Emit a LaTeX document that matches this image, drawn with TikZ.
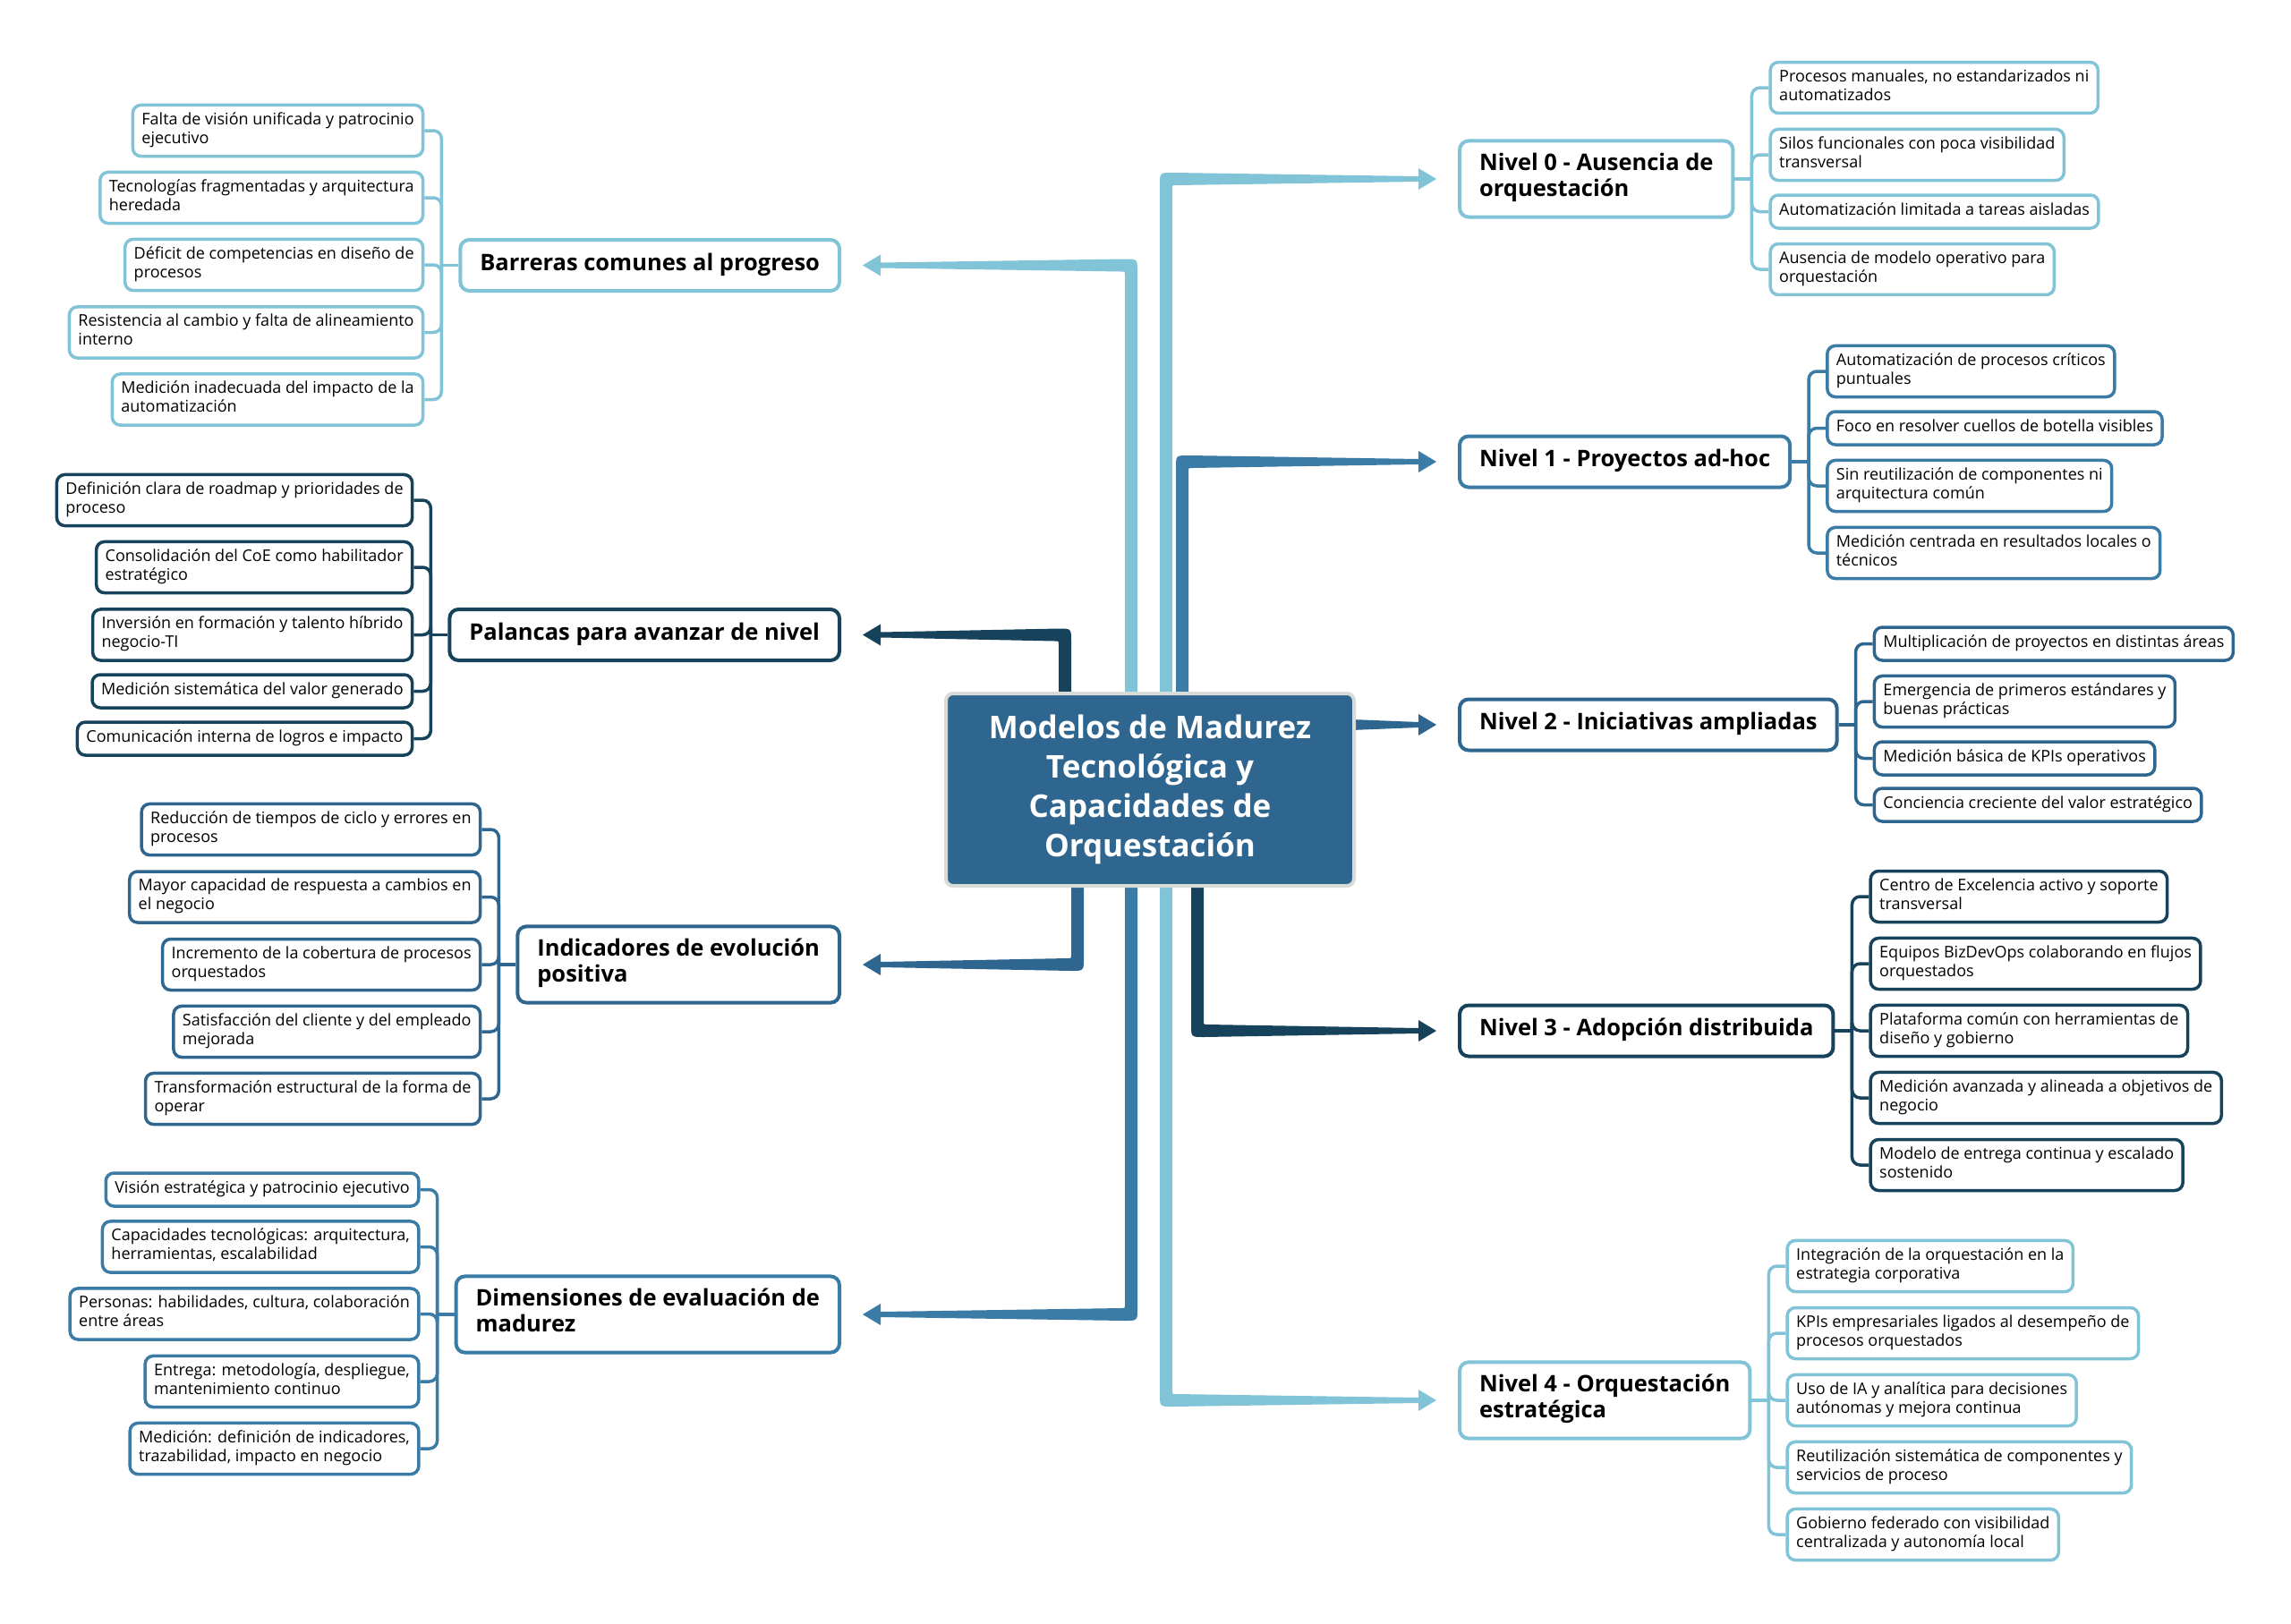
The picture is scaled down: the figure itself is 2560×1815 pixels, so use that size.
\documentclass[tikz,border=0pt]{standalone}
\usepackage{fontspec}
\setmainfont{Open Sans}
\usetikzlibrary{calc}
\pgfdeclarelayer{bg}
\pgfsetlayers{bg,main}
\definecolor{cL}{HTML}{81C3D7}
\definecolor{cM}{HTML}{3A7CA5}
\definecolor{cD}{HTML}{2F6690}
\definecolor{cN}{HTML}{16425B}
\definecolor{cG}{HTML}{D9DCD6}
\tikzset{
 itembox/.style={draw=#1, line width=3.5pt, rounded corners=9pt, fill=white, align=left,
   inner xsep=10pt, inner ysep=8pt, font=\fontsize{18}{21}\selectfont, text=black,
   execute at begin node=\strut, execute at end node=\strut},
 topicbox/.style={draw=#1, line width=4pt, rounded corners=10pt, fill=white, align=left,
   inner xsep=22pt, inner ysep=14pt, font=\bfseries\fontsize{25.5}{29}\selectfont, text=black,
   execute at begin node=\strut, execute at end node=\strut},
 brk/.style={draw=#1, line width=3.5pt, rounded corners=9pt},
}
% tapered elbow connector: color, trunk x, centre anchor, target node, target anchor, sx, sy
\newcommand\branch[7]{%
\fill[#1] let \p1=(ctr.#3), \p2=(#4.#5), \n1={#6}, \n2={#7} in
 ({#2pt-(\n1)*7pt}, \y1)
 -- ({#2pt-(\n1)*7pt}, {\y2+(\n2)*(7pt-14pt)})
 .. controls ({#2pt-(\n1)*7pt}, {\y2+(\n2)*7pt}) .. ({#2pt+(\n1)*7pt}, {\y2+(\n2)*7pt})
 -- ({\x2-(\n1)*44pt}, {\y2+(\n2)*3pt})
 -- ({\x2-(\n1)*44pt}, {\y2+(\n2)*12pt})
 -- ({\x2-(\n1)*24pt}, \y2)
 -- ({\x2-(\n1)*44pt}, {\y2-(\n2)*12pt})
 -- ({\x2-(\n1)*44pt}, {\y2-(\n2)*3pt})
 -- ({#2pt+(\n1)*11pt}, {\y2-(\n2)*7pt})
 .. controls ({#2pt+(\n1)*7pt}, {\y2-(\n2)*7pt}) .. ({#2pt+(\n1)*7pt}, {\y2-(\n2)*11pt})
 -- ({#2pt+(\n1)*7pt}, \y1) -- cycle;}
\begin{document}
\begin{tikzpicture}[x=1pt,y=-1pt]
\useasboundingbox (0,0) rectangle (2560,1815);
\begin{pgfonlayer}{bg}
\fill[white] (0,0) rectangle (2560,1815);
\end{pgfonlayer}

% centre
\node[draw=cG, line width=4pt, fill=cD, rounded corners=8pt, minimum width=456pt, minimum height=215pt,
  text=white, align=center, font=\bfseries\fontsize{35}{44}\selectfont] (ctr) at (1285,882.5)
  {Modelos de Madurez\\Tecnológica y\\Capacidades de\\Orquestación};

% right topics
\node[topicbox=cL, anchor=west] (n0) at (1629,200) {Nivel 0 - Ausencia de\\orquestación};
\node[topicbox=cM, anchor=west] (n1) at (1629,516) {Nivel 1 - Proyectos ad-hoc};
\node[topicbox=cD, anchor=west] (n2) at (1629,810) {Nivel 2 - Iniciativas ampliadas};
\node[topicbox=cN, anchor=west] (n3) at (1629,1152) {Nivel 3 - Adopción distribuida};
\node[topicbox=cL, anchor=west] (n4) at (1629,1565) {Nivel 4 - Orquestación\\estratégica};
% left topics
\node[topicbox=cL, anchor=east] (tb) at (940,296.5) {Barreras comunes al progreso};
\node[topicbox=cN, anchor=east] (tp) at (940,709.5) {Palancas para avanzar de nivel};
\node[topicbox=cD, anchor=east] (ti) at (940,1078) {Indicadores de evolución\\positiva};
\node[topicbox=cM, anchor=east] (td) at (940,1469) {Dimensiones de evaluación de\\madurez};

% Nivel 0 items
\node[itembox=cL, anchor=west, xshift=38pt] (n0a) at (n0.east |- 0,98) {Procesos manuales, no estandarizados ni\\automatizados};
\node[itembox=cL, anchor=west, xshift=38pt] (n0b) at (n0.east |- 0,173) {Silos funcionales con poca visibilidad\\transversal};
\node[itembox=cL, anchor=west, xshift=38pt] (n0c) at (n0.east |- 0,236.5) {Automatización limitada a tareas aisladas};
\node[itembox=cL, anchor=west, xshift=38pt] (n0d) at (n0.east |- 0,301) {Ausencia de modelo operativo para\\orquestación};
% Nivel 1 items
\node[itembox=cM, anchor=west, xshift=38pt] (n1a) at (n1.east |- 0,415) {Automatización de procesos críticos\\puntuales};
\node[itembox=cM, anchor=west, xshift=38pt] (n1b) at (n1.east |- 0,478.5) {Foco en resolver cuellos de botella visibles};
\node[itembox=cM, anchor=west, xshift=38pt] (n1c) at (n1.east |- 0,543) {Sin reutilización de componentes ni\\arquitectura común};
\node[itembox=cM, anchor=west, xshift=38pt] (n1d) at (n1.east |- 0,618) {Medición centrada en resultados locales o\\técnicos};
% Nivel 2 items
\node[itembox=cD, anchor=west, xshift=38pt] (n2a) at (n2.east |- 0,719.5) {Multiplicación de proyectos en distintas áreas};
\node[itembox=cD, anchor=west, xshift=38pt] (n2b) at (n2.east |- 0,784) {Emergencia de primeros estándares y\\buenas prácticas};
\node[itembox=cD, anchor=west, xshift=38pt] (n2c) at (n2.east |- 0,847.5) {Medición básica de KPIs operativos};
\node[itembox=cD, anchor=west, xshift=38pt] (n2d) at (n2.east |- 0,899.5) {Conciencia creciente del valor estratégico};
% Nivel 3 items
\node[itembox=cN, anchor=west, xshift=38pt] (n3a) at (n3.east |- 0,1002) {Centro de Excelencia activo y soporte\\transversal};
\node[itembox=cN, anchor=west, xshift=38pt] (n3b) at (n3.east |- 0,1077) {Equipos BizDevOps colaborando en flujos\\orquestados};
\node[itembox=cN, anchor=west, xshift=38pt] (n3c) at (n3.east |- 0,1152) {Plataforma común con herramientas de\\diseño y gobierno};
\node[itembox=cN, anchor=west, xshift=38pt] (n3d) at (n3.east |- 0,1227) {Medición avanzada y alineada a objetivos de\\negocio};
\node[itembox=cN, anchor=west, xshift=38pt] (n3e) at (n3.east |- 0,1302) {Modelo de entrega continua y escalado\\sostenido};
% Nivel 4 items
\node[itembox=cL, anchor=west, xshift=38pt] (n4a) at (n4.east |- 0,1415) {Integración de la orquestación en la\\estrategia corporativa};
\node[itembox=cL, anchor=west, xshift=38pt] (n4b) at (n4.east |- 0,1490) {KPIs empresariales ligados al desempeño de\\procesos orquestados};
\node[itembox=cL, anchor=west, xshift=38pt] (n4c) at (n4.east |- 0,1565) {Uso de IA y analítica para decisiones\\autónomas y mejora continua};
\node[itembox=cL, anchor=west, xshift=38pt] (n4d) at (n4.east |- 0,1640) {Reutilización sistemática de componentes y\\servicios de proceso};
\node[itembox=cL, anchor=west, xshift=38pt] (n4e) at (n4.east |- 0,1715) {Gobierno federado con visibilidad\\centralizada y autonomía local};

% Barreras items
\node[itembox=cL, anchor=east, xshift=-38pt] (b1) at (tb.west |- 0,146) {Falta de visión unificada y patrocinio\\ejecutivo};
\node[itembox=cL, anchor=east, xshift=-38pt] (b2) at (tb.west |- 0,221) {Tecnologías fragmentadas y arquitectura\\heredada};
\node[itembox=cL, anchor=east, xshift=-38pt] (b3) at (tb.west |- 0,296) {Déficit de competencias en diseño de\\procesos};
\node[itembox=cL, anchor=east, xshift=-38pt] (b4) at (tb.west |- 0,371.5) {Resistencia al cambio y falta de alineamiento\\interno};
\node[itembox=cL, anchor=east, xshift=-38pt] (b5) at (tb.west |- 0,446.5) {Medición inadecuada del impacto de la\\automatización};
% Palancas items
\node[itembox=cN, anchor=east, xshift=-38pt] (p1) at (tp.west |- 0,559) {Definición clara de roadmap y prioridades de\\proceso};
\node[itembox=cN, anchor=east, xshift=-38pt] (p2) at (tp.west |- 0,634) {Consolidación del CoE como habilitador\\estratégico};
\node[itembox=cN, anchor=east, xshift=-38pt] (p3) at (tp.west |- 0,709.5) {Inversión en formación y talento híbrido\\negocio-TI};
\node[itembox=cN, anchor=east, xshift=-38pt] (p4) at (tp.west |- 0,772.5) {Medición sistemática del valor generado};
\node[itembox=cN, anchor=east, xshift=-38pt] (p5) at (tp.west |- 0,825.5) {Comunicación interna de logros e impacto};
% Indicadores items
\node[itembox=cD, anchor=east, xshift=-38pt] (i1) at (ti.west |- 0,927) {Reducción de tiempos de ciclo y errores en\\procesos};
\node[itembox=cD, anchor=east, xshift=-38pt] (i2) at (ti.west |- 0,1002.5) {Mayor capacidad de respuesta a cambios en\\el negocio};
\node[itembox=cD, anchor=east, xshift=-38pt] (i3) at (ti.west |- 0,1078) {Incremento de la cobertura de procesos\\orquestados};
\node[itembox=cD, anchor=east, xshift=-38pt] (i4) at (ti.west |- 0,1153) {Satisfacción del cliente y del empleado\\mejorada};
\node[itembox=cD, anchor=east, xshift=-38pt] (i5) at (ti.west |- 0,1228) {Transformación estructural de la forma de\\operar};
% Dimensiones items
\node[itembox=cM, anchor=east, xshift=-38pt] (d1) at (td.west |- 0,1329.5) {Visión estratégica y patrocinio ejecutivo};
\node[itembox=cM, anchor=east, xshift=-38pt] (d2) at (td.west |- 0,1393.5) {Capacidades tecnológicas: arquitectura,\\herramientas, escalabilidad};
\node[itembox=cM, anchor=east, xshift=-38pt] (d3) at (td.west |- 0,1468.5) {Personas: habilidades, cultura, colaboración\\entre áreas};
\node[itembox=cM, anchor=east, xshift=-38pt] (d4) at (td.west |- 0,1544) {Entrega: metodología, despliegue,\\mantenimiento continuo};
\node[itembox=cM, anchor=east, xshift=-38pt] (d5) at (td.west |- 0,1619) {Medición: definición de indicadores,\\trazabilidad, impacto en negocio};

\begin{pgfonlayer}{bg}
% main branches
\branch{cL}{1264}{north}{tb}{east}{-1}{1}
\branch{cN}{1190}{north}{tp}{east}{-1}{1}
\branch{cL}{1303}{north}{n0}{west}{1}{1}
\branch{cM}{1321}{north}{n1}{west}{1}{1}
\branch{cN}{1338}{south}{n3}{west}{1}{-1}
\branch{cL}{1303}{south}{n4}{west}{1}{-1}
\branch{cD}{1204}{south}{ti}{east}{-1}{-1}
\branch{cM}{1264}{south}{td}{east}{-1}{-1}
\fill[cD] let \p1=(ctr.east), \p2=(n2.west) in
 (\x1-5pt, \y2+6pt) -- (\x2-44pt, \y2+3pt) -- (\x2-44pt, \y2+12pt) -- (\x2-24pt, \y2)
 -- (\x2-44pt, \y2-12pt) -- (\x2-44pt, \y2-3pt) -- (\x1-5pt, \y2-6pt) -- cycle;

% brackets right
\foreach \t/\c/\list in {n0/cL/{n0a,n0b,n0c,n0d}, n1/cM/{n1a,n1b,n1c,n1d}, n2/cD/{n2a,n2b,n2c,n2d},
  n3/cN/{n3a,n3b,n3c,n3d,n3e}, n4/cL/{n4a,n4b,n4c,n4d,n4e}}{
  \draw[brk=\c] (\t.east) -- ([xshift=19pt]\t.east);
  \foreach \k in \list {\draw[brk=\c] ([xshift=19pt]\t.east) |- (\k.west);}
}
% brackets left
\foreach \t/\c/\list in {tb/cL/{b1,b2,b3,b4,b5}, tp/cN/{p1,p2,p3,p4,p5}, ti/cD/{i1,i2,i3,i4,i5},
  td/cM/{d1,d2,d3,d4,d5}}{
  \draw[brk=\c] (\t.west) -- ([xshift=-19pt]\t.west);
  \foreach \k in \list {\draw[brk=\c] ([xshift=-19pt]\t.west) |- (\k.east);}
}
\end{pgfonlayer}
\end{tikzpicture}
\end{document}
